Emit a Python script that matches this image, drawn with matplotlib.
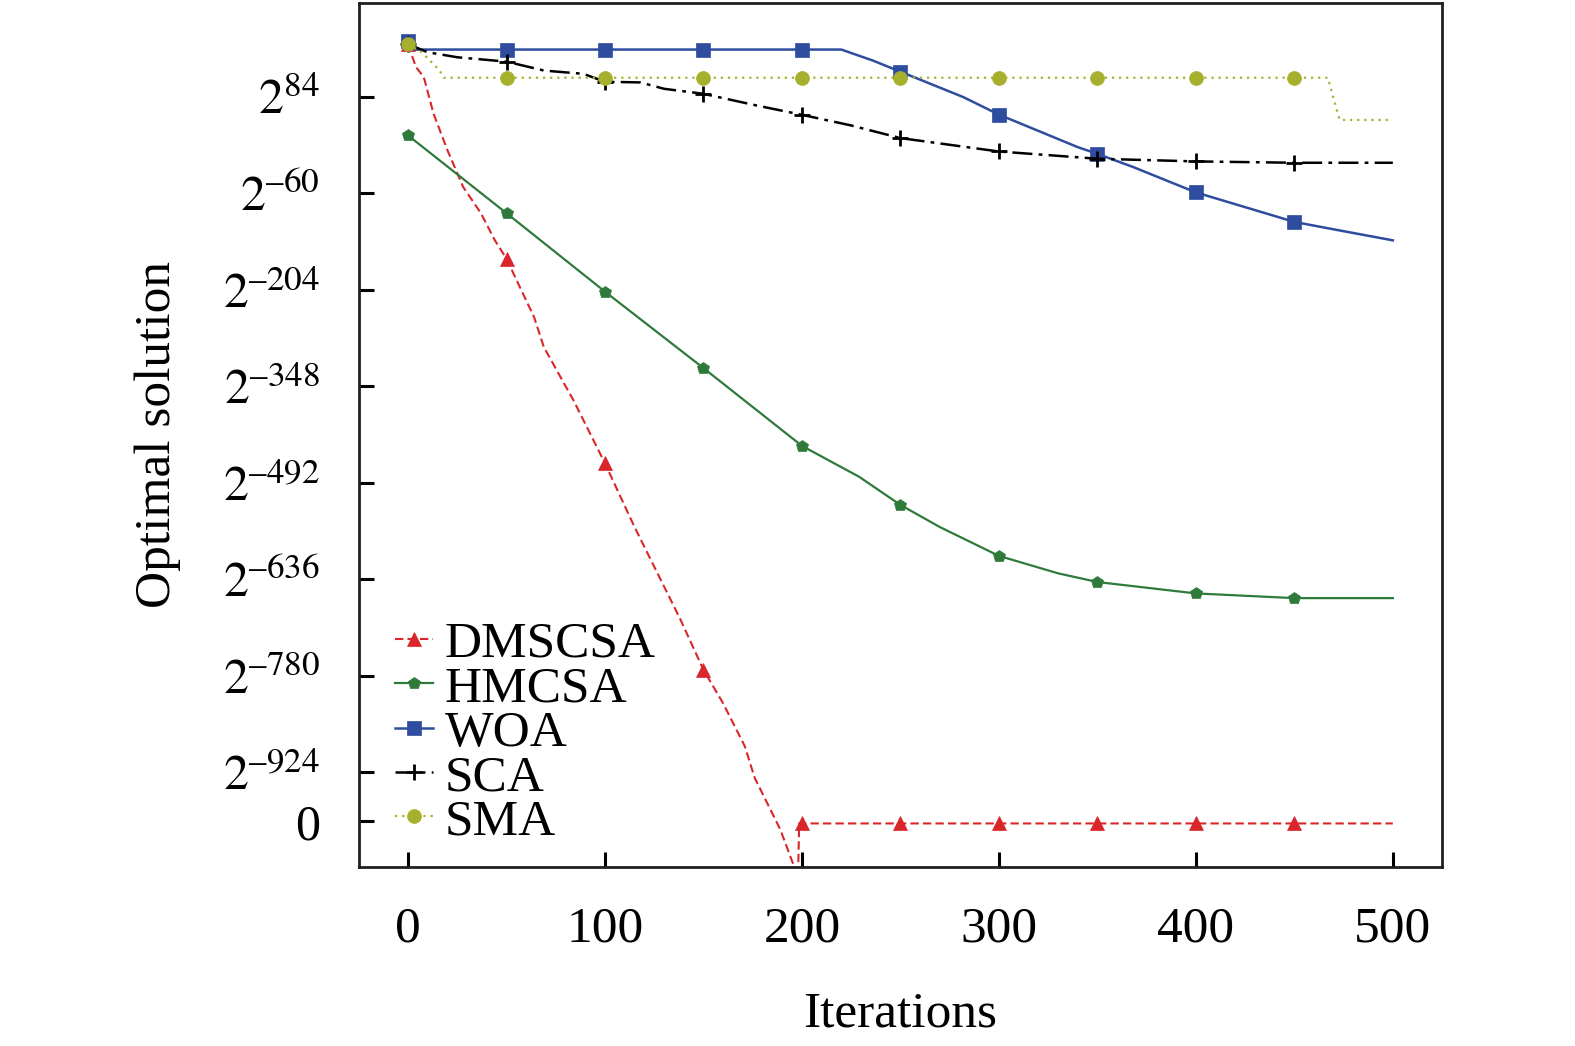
import numpy as np
import matplotlib
matplotlib.use("Agg")
import matplotlib.pyplot as plt

# -----------------------------------
# Data (y values are log2 of the best solution)
# -----------------------------------
dmscsa_x = [0, 4, 8, 13, 20, 28, 37, 44, 50, 64, 69, 84, 100, 115, 138, 150,
            160, 171, 176, 189, 198, 198.6, 200, 250, 300, 350, 400, 450, 500]
dmscsa_y = [162, 128, 113, 58, 4, -51, -90, -130, -158, -245, -290, -369, -463,
            -558, -694, -771, -821, -885, -932, -1009, -1080, -1000, -1000,
            -1000, -1000, -1000, -1000, -1000, -1000]

hmcsa_x = [0, 50, 100, 150, 200, 229, 250, 270, 300, 330, 350, 400, 450, 500]
hmcsa_y = [26, -90, -207, -321, -437, -483, -525, -558, -601, -627, -640,
           -657, -664, -664]

woa_x = [0, 1, 50, 100, 150, 200, 220, 236, 250, 282, 300, 340, 350, 368,
         400, 450, 468, 500]
woa_y = [167, 154, 154, 154, 154, 154, 154, 137.6, 121, 83, 57, 8.5, -1.5,
         -21, -59, -103, -113, -130.5]

sca_x = [0, 10, 25, 50, 69, 89, 100, 118, 130, 150, 177, 200, 225, 250, 300,
         350, 400, 450, 500]
sca_y = [162, 150, 142.5, 136, 122.7, 117.8, 106, 105, 95.5, 88, 70.6, 56.7,
         40.8, 22, 2, -8.8, -12.8, -14.8, -14.8]

sma_x = [0, 7, 16, 18, 50, 100, 150, 200, 250, 300, 350, 400, 450, 467, 473, 500]
sma_y = [162.5, 150, 123, 112, 112, 112, 112, 112, 112, 112, 112, 112, 112,
         112, 49, 49]

ytick_pos = [84, -60, -204, -348, -492, -636, -780, -924, -997]
ytick_lab = ["$2^{84}$", "$2^{\u201360}$", "$2^{\u2013204}$", "$2^{\u2013348}$",
             "$2^{\u2013492}$", "$2^{\u2013636}$", "$2^{\u2013780}$",
             "$2^{\u2013924}$", "0"]
xtick_pos = [0, 100, 200, 300, 400, 500]

# -----------------------------------
# Style
# -----------------------------------
plt.rcParams["font.family"] = ["Liberation Serif", "DejaVu Serif"]
plt.rcParams["mathtext.fontset"] = "stix"

fig = plt.figure(figsize=(15.75, 10.46), dpi=100)
ax = fig.add_axes([0.2278, 0.1711, 0.6878, 0.8264])


def marks(x):
    x = np.asarray(x, dtype=float)
    return list(np.where((x % 50 == 0) & (x < 500))[0])


series = [
    ("DMSCSA", dmscsa_x, dmscsa_y, "#d9262b", (0, (4, 2)), "^", 10, 1.5),
    ("HMCSA", hmcsa_x, hmcsa_y, "#2f7a3b", "-", "p", 9, 1.6),
    ("WOA", woa_x, woa_y, "#2f4d9e", "-", "s", 9.5, 1.8),
    ("SCA", sca_x, sca_y, "black", (0, (8, 2.5, 1.5, 2.5)), "+", 11, 1.8),
    ("SMA", sma_x, sma_y, "#a6b02c", (0, (1, 2.2)), "o", 10, 1.6),
]

for name, xs, ys, col, ls, mk, ms, lw in series:
    ax.plot(xs, ys, color=col, linestyle=ls, linewidth=lw, marker=mk,
            markersize=ms, markeredgewidth=2 if mk == "+" else 0.5,
            markeredgecolor=col, markerfacecolor=col,
            markevery=marks(xs), label=name)

ax.set_xlim(-25, 525)
ax.set_ylim(-1065, 224)
ax.set_xticks(xtick_pos)
ax.set_yticks(ytick_pos)
ax.set_yticklabels(ytick_lab)

ax.tick_params(direction="in", length=11, width=2.2, pad=28)
ax.tick_params(axis="x", labelsize=37)
ax.tick_params(axis="y", labelsize=36)
for sp in ax.spines.values():
    sp.set_linewidth(2)
    sp.set_color("#231f20")

ax.set_xlabel("Iterations", fontsize=37, labelpad=28)
ax.set_ylabel("Optimal solution", fontsize=37, labelpad=30)

ax.legend(loc="lower left", bbox_to_anchor=(0.033, 0.025), frameon=False,
          fontsize=37, handlelength=0.75, handletextpad=0.22, labelspacing=-0.05,
          borderpad=0, borderaxespad=0, numpoints=1)

fig.savefig("out.png", dpi=100)
